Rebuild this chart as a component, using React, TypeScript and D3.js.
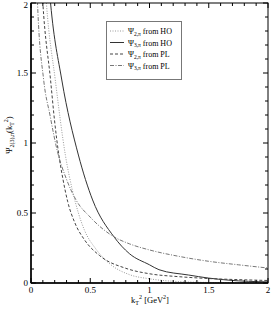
import { useEffect, useRef } from "react";
import * as d3 from "d3";

// values
const kHO2 = [0.11, 0.13, 0.205, 0.29, 0.35, 0.4, 0.45, 0.55, 0.675, 0.83, 1.0, 1.25, 1.5, 2.0];
const vHO2 = [2.25, 2.0, 1.45, 0.914, 0.66, 0.5, 0.38, 0.24, 0.13, 0.06, 0.03, 0.01, 0.004, 0.001];

const kHO3 = [0.14, 0.165, 0.26, 0.4, 0.52, 0.7, 0.83, 1.0, 1.08, 1.33, 1.5, 1.67, 2.0];
const vHO3 = [2.25, 2.0, 1.45, 0.914, 0.593, 0.33, 0.21, 0.13, 0.095, 0.057, 0.035, 0.02, 0.008];

const kPL2 = [0.08, 0.1, 0.165, 0.2, 0.235, 0.27, 0.31, 0.37, 0.45, 0.58, 0.8, 1.0, 1.25, 1.5, 1.75, 2.0];
const vPL2 = [2.3, 2.0, 1.45, 1.15, 0.914, 0.74, 0.58, 0.43, 0.31, 0.195, 0.105, 0.066, 0.045, 0.032, 0.024, 0.018];

const kPL3 = [0.045, 0.055, 0.107, 0.16, 0.22, 0.3, 0.38, 0.5, 0.7, 0.83, 1.0, 1.25, 1.5, 1.75, 2.0];
const vPL3 = [2.3, 2.0, 1.45, 1.2, 0.95, 0.74, 0.593, 0.47, 0.33, 0.28, 0.236, 0.19, 0.155, 0.13, 0.107];

const tickValues = [0, 0.5, 1, 1.5, 2];
const tickLabels = ["0", "0.5", "1", "1.5", "2"];

const series = [
  { sub: "2,\u03c0", src: "HO", k: kHO2, v: vHO2, color: "#9a9a9a", dash: "1,1.5" },
  { sub: "3,\u03c0", src: "HO", k: kHO3, v: vHO3, color: "#333", dash: null },
  { sub: "2,\u03c0", src: "PL", k: kPL2, v: vPL2, color: "#444", dash: "3,2" },
  { sub: "3,\u03c0", src: "PL", k: kPL3, v: vPL3, color: "#777", dash: "4,1.5,1,1.5" },
];

const W = 273;
const H = 309;
const m = { left: 31, top: 3, right: 268, bottom: 283 };
const font = "Liberation Serif, Times New Roman, serif";

export default function App() {
  const ref = useRef<SVGSVGElement | null>(null);

  useEffect(() => {
    const svg = d3.select(ref.current);
    svg.selectAll("*").remove();

    const x = d3.scaleLinear().domain([0, 2]).range([m.left, m.right]);
    const y = d3.scaleLinear().domain([0, 2]).range([m.bottom, m.top]);

    svg
      .append("defs")
      .append("clipPath")
      .attr("id", "plot")
      .append("rect")
      .attr("x", m.left)
      .attr("y", m.top)
      .attr("width", m.right - m.left)
      .attr("height", m.bottom - m.top);

    const g = svg.append("g").attr("clip-path", "url(#plot)");
    series.forEach((s) => {
      const pts: [number, number][] = s.k.map((k, i) => [x(k), y(s.v[i])]);
      const path = d3.line().curve(d3.curveMonotoneX)(pts);
      g.append("path")
        .attr("d", path)
        .attr("fill", "none")
        .attr("stroke", s.color)
        .attr("stroke-width", 1)
        .attr("stroke-dasharray", s.dash);
    });

    // frame
    svg
      .append("rect")
      .attr("x", m.left)
      .attr("y", m.top)
      .attr("width", m.right - m.left)
      .attr("height", m.bottom - m.top)
      .attr("fill", "none")
      .attr("stroke", "#000")
      .attr("stroke-width", 1);
    svg
      .append("line")
      .attr("x1", m.left)
      .attr("x2", m.right)
      .attr("y1", m.bottom)
      .attr("y2", m.bottom)
      .attr("stroke", "#000")
      .attr("stroke-width", 1.5);
    svg
      .append("line")
      .attr("x1", m.left)
      .attr("x2", m.left)
      .attr("y1", m.top)
      .attr("y2", m.bottom)
      .attr("stroke", "#000")
      .attr("stroke-width", 1.5);

    // ticks, inward on all sides
    const minor = d3.range(0, 2.001, 0.1);
    const ticks = svg.append("g").attr("stroke", "#000").attr("stroke-width", 1);
    minor.forEach((t) => {
      const major = tickValues.some((v) => Math.abs(v - t) < 1e-6);
      const len = major ? 5 : 3;
      ticks.append("line").attr("x1", x(t)).attr("x2", x(t)).attr("y1", m.bottom).attr("y2", m.bottom - len);
      ticks.append("line").attr("x1", x(t)).attr("x2", x(t)).attr("y1", m.top).attr("y2", m.top + len);
      ticks.append("line").attr("y1", y(t)).attr("y2", y(t)).attr("x1", m.left).attr("x2", m.left + len);
      ticks.append("line").attr("y1", y(t)).attr("y2", y(t)).attr("x1", m.right).attr("x2", m.right - len);
    });

    tickValues.forEach((t, i) => {
      svg
        .append("text")
        .attr("x", x(t))
        .attr("y", m.bottom + 9.5)
        .attr("text-anchor", "middle")
        .attr("font-family", font)
        .attr("font-size", 9)
        .text(tickLabels[i]);
      svg
        .append("text")
        .attr("x", m.left - 3)
        .attr("y", Math.max(y(t) + 3, 8))
        .attr("text-anchor", "end")
        .attr("font-family", font)
        .attr("font-size", 9)
        .text(tickLabels[i]);
    });

    // x label
    const xl = svg
      .append("text")
      .attr("x", 150)
      .attr("y", 303)
      .attr("text-anchor", "middle")
      .attr("font-family", font)
      .attr("font-size", 8.5);
    xl.append("tspan").text("k");
    xl.append("tspan").attr("font-size", 6).attr("dy", 2).text("T");
    xl.append("tspan").attr("font-size", 6).attr("dy", -6).text("2");
    xl.append("tspan").attr("dy", 4).text(" [GeV");
    xl.append("tspan").attr("font-size", 6).attr("dy", -4).text("2");
    xl.append("tspan").attr("dy", 4).text("]");

    // y label
    const yl = svg
      .append("text")
      .attr("transform", "translate(12,135) rotate(-90)")
      .attr("text-anchor", "middle")
      .attr("font-family", font)
      .attr("font-size", 8.5);
    yl.append("tspan").text("\u03a8");
    yl.append("tspan").attr("font-size", 6).attr("dy", 2).text("2(3),\u03c0");
    yl.append("tspan").attr("dy", -2).text("(k");
    yl.append("tspan").attr("font-size", 6).attr("dy", 2).text("T");
    yl.append("tspan").attr("font-size", 6).attr("dy", -6).text("2");
    yl.append("tspan").attr("dy", 4).text(")");

    // legend
    const lg = svg.append("g");
    lg.append("rect")
      .attr("x", 106.5)
      .attr("y", 21.5)
      .attr("width", 75)
      .attr("height", 58)
      .attr("fill", "#fff")
      .attr("stroke", "#777")
      .attr("stroke-width", 1);
    series.forEach((s, i) => {
      const yy = 31 + i * 11.5;
      lg.append("line")
        .attr("x1", 110)
        .attr("x2", 124)
        .attr("y1", yy)
        .attr("y2", yy)
        .attr("stroke", s.color)
        .attr("stroke-width", 1)
        .attr("stroke-dasharray", s.dash);
      const t = lg
        .append("text")
        .attr("x", 128)
        .attr("y", yy + 3)
        .attr("font-family", font)
        .attr("font-size", 8)
        .attr("fill", "#000");
      t.append("tspan").text("\u03a8");
      t.append("tspan").attr("font-size", 5.5).attr("dy", 1.5).text(s.sub);
      t.append("tspan").attr("dy", -1.5).text(" from " + s.src);
    });
  }, []);

  return (
    <svg
      ref={ref}
      width={W}
      height={H}
      style={{ position: "absolute", left: 0, top: 0, background: "#fff" }}
    />
  );
}
